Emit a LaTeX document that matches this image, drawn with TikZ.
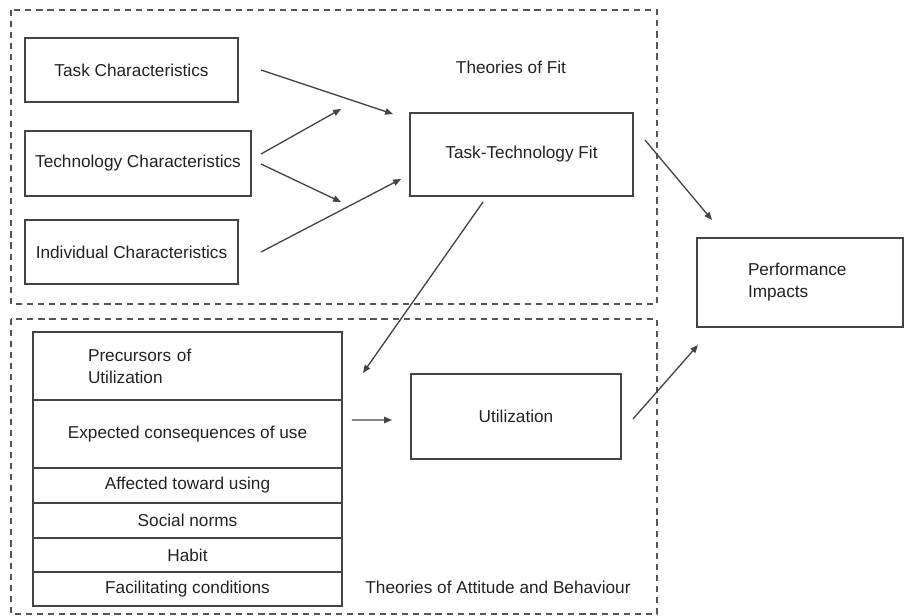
\documentclass[tikz,border=0pt]{standalone}
\usepackage{fontspec}
\setmainfont{Liberation Sans}
\usetikzlibrary{arrows.meta,positioning}
\definecolor{boxline}{HTML}{444444}
\definecolor{dashline}{HTML}{555555}
\definecolor{ink}{HTML}{222222}

\begin{document}
\begin{tikzpicture}[x=0.02cm, y=-0.02cm, every node/.style={font=\fontsize{9.8}{12.5}\selectfont, text=ink},
    box/.style={draw=boxline, line width=1pt, inner sep=0pt, outer sep=0pt, align=center},
    row/.style={box, minimum width=6.18cm},
    region/.style={draw=dashline, line width=1pt, dash pattern=on 3.5pt off 2.8pt},
    arr/.style={draw=boxline, line width=0.75pt, -{Triangle[length=4.5pt,width=3.6pt]}}]
  \useasboundingbox (0,0) rectangle (904,616);
  % the two theory regions
  \draw[region] (11,10) rectangle (657,304);
  \draw[region] (11,319) rectangle (657,614);
  % theories of fit
  \node[box, minimum width=4.26cm, minimum height=1.28cm] (task) at (131.5,70) {Task Characteristics};
  \node[box, minimum width=4.52cm, minimum height=1.3cm] (tech) at (138,163.5) {Technology Characteristics};
  \node[box, minimum width=4.26cm, minimum height=1.28cm] (indiv) at (131.5,252) {Individual Characteristics};
  \node[box, minimum width=4.46cm, minimum height=1.66cm] (ttf) at (521.5,154.5) {Task-Technology Fit};
  \node (fitlabel) at (511,67) {Theories of Fit};
  \node[box, minimum width=4.12cm, minimum height=1.78cm, text width=2.08cm, inner xsep=1.02cm, align=left] (perf) at (800,282.5) {Performance\\Impacts};
  % theories of attitude and behaviour
  \node[row, minimum height=1.36cm, text width=3.98cm, inner xsep=1.1cm, align=left] (pre) at (187.5,366) {Precursors of\\Utilization};
  \node[row, minimum height=1.36cm, below=0pt of pre] (expect) {Expected consequences of use};
  \node[row, minimum height=0.7cm, below=0pt of expect] (affect) {Affected toward using};
  \node[row, minimum height=0.7cm, below=0pt of affect] (social) {Social norms};
  \node[row, minimum height=0.68cm, below=0pt of social] (habit) {Habit};
  \node[row, minimum height=0.68cm, below=0pt of habit] (facil) {Facilitating conditions};
  \node[box, minimum width=4.2cm, minimum height=1.7cm] (util) at (516,416.5) {Utilization};
  \node (attlabel) at (498,587) {Theories of Attitude and Behaviour};
  % arrow ends
  \coordinate (taskout) at ([shift={(23,0)}]task.east);
  \coordinate (fitinA) at ([shift={(-17,-40.5)}]ttf.west);
  \coordinate (techoutA) at ([shift={(10,-9.5)}]tech.east);
  \coordinate (techendA) at ([shift={(-69,-45.5)}]ttf.west);
  \coordinate (techoutB) at ([shift={(10,0.5)}]tech.east);
  \coordinate (techendB) at ([shift={(-69,47.5)}]ttf.west);
  \coordinate (indivout) at ([shift={(23,0)}]indiv.east);
  \coordinate (fitinB) at ([shift={(-9,24.5)}]ttf.west);
  \coordinate (fitoutA) at ([shift={(12,-14.5)}]ttf.east);
  \coordinate (perfinA) at ([shift={(15,-18)}]perf.north west);
  \coordinate (fitoutB) at ([shift={(-38.5,6)}]ttf.south);
  \coordinate (prein) at ([shift={(21,7)}]pre.east);
  \coordinate (expectout) at ([shift={(10,-14)}]expect.east);
  \coordinate (utilin) at ([shift={(-19,3.5)}]util.west);
  \coordinate (utilout) at ([shift={(12,2.5)}]util.east);
  \coordinate (perfinB) at ([shift={(1,18)}]perf.south west);
  % arrows
  \draw[arr] (taskout) -- (fitinA);
  \draw[arr] (techoutA) -- (techendA);
  \draw[arr] (techoutB) -- (techendB);
  \draw[arr] (indivout) -- (fitinB);
  \draw[arr] (fitoutA) -- (perfinA);
  \draw[arr] (fitoutB) -- (prein);
  \draw[arr] (expectout) -- (utilin);
  \draw[arr] (utilout) -- (perfinB);
\end{tikzpicture}
\end{document}
